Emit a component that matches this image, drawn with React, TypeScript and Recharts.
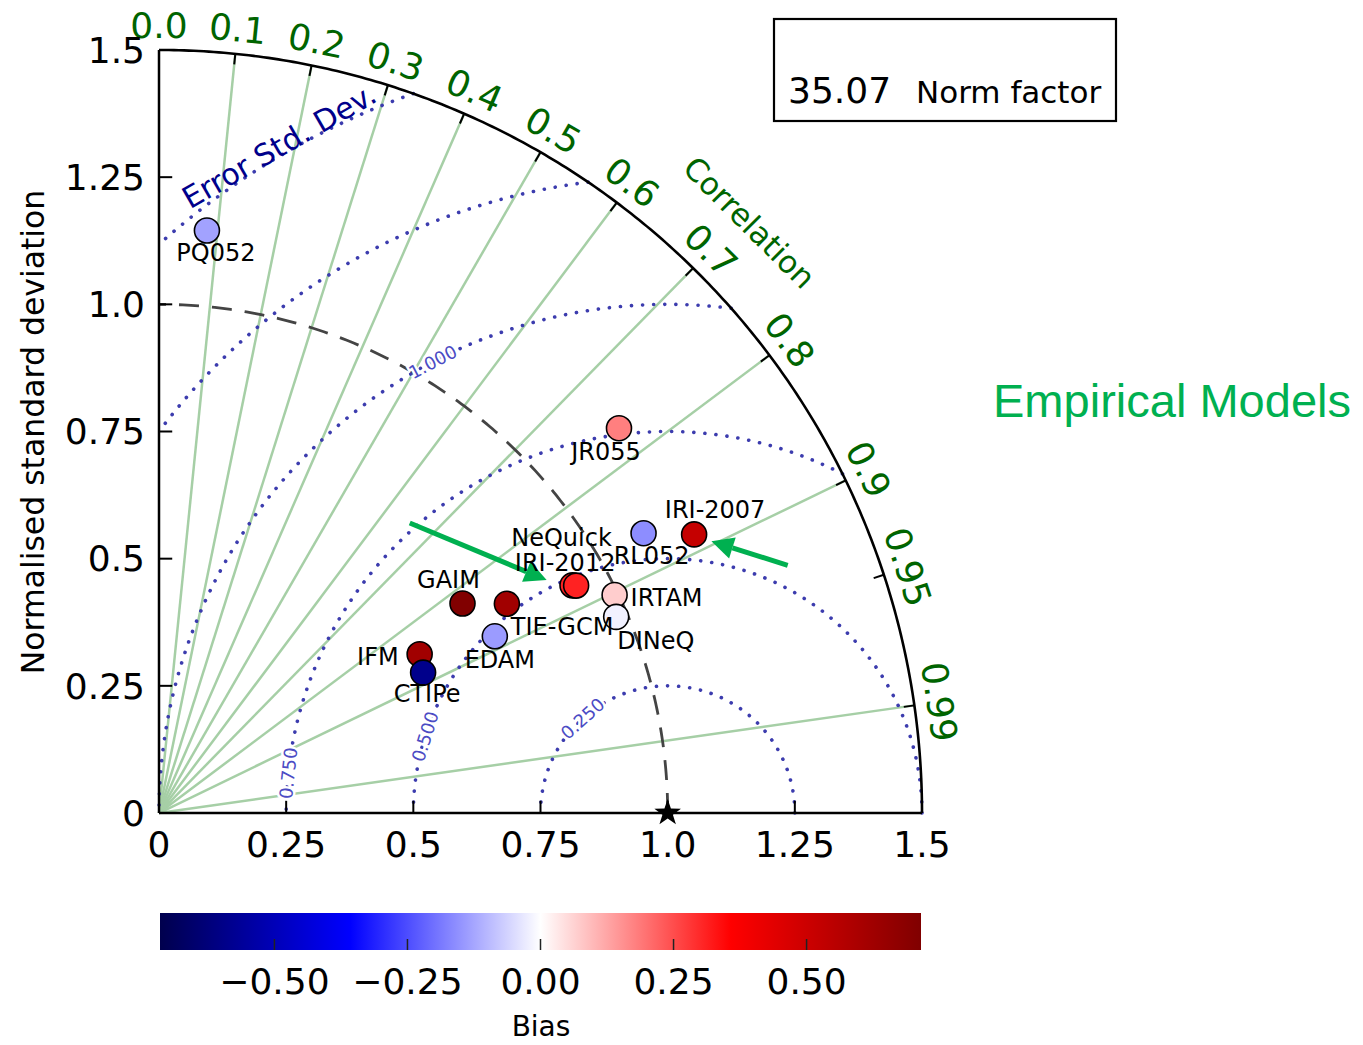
import React from 'react';
import {
  ComposedChart,
  Line,
  Scatter,
  XAxis,
  YAxis,
  ReferenceLine,
  ReferenceDot,
  ReferenceArea,
  Customized,
} from 'recharts';

// ---- Model statistics (standard deviation normalised by the observations) ----
const models = ['PQ052', 'JR055', 'RL052', 'IRI-2007', 'NeQuick', 'IRI-2012', 'IRTAM', 'DINeQ', 'GAIM', 'TIE-GCM', 'EDAM', 'IFM', 'CTIPe'];
const stdDev = [1.149, 1.179, 1.100, 1.186, 0.928, 0.934, 0.993, 0.978, 0.725, 0.798, 0.746, 0.600, 0.588];
const correlation = [0.082, 0.767, 0.866, 0.887, 0.876, 0.878, 0.902, 0.919, 0.823, 0.857, 0.885, 0.854, 0.883];
const bias = [-0.13, 0.18, -0.16, 0.52, 0.31, 0.31, 0.07, -0.02, 0.71, 0.62, -0.14, 0.62, -0.59];

// ---- Diagram axes ----
const refStd = 1.0;
const maxStd = 1.5;
const stdTicks = [0, 0.25, 0.5, 0.75, 1.0, 1.25, 1.5];
const stdTickLabels = ['0', '0.25', '0.5', '0.75', '1.0', '1.25', '1.5'];
const corrLabelValues = [0.0, 0.1, 0.2, 0.3, 0.4, 0.5, 0.6, 0.7, 0.8, 0.9, 0.95, 0.99];
const corrLabelTexts = ['0.0', '0.1', '0.2', '0.3', '0.4', '0.5', '0.6', '0.7', '0.8', '0.9', '0.95', '0.99'];
const corrTickValues = [0.1, 0.2, 0.3, 0.4, 0.5, 0.6, 0.7, 0.8, 0.9, 0.95, 0.99];
const corrRayValues = [0.1, 0.2, 0.3, 0.4, 0.5, 0.6, 0.7, 0.8, 0.9, 0.99];
const rmsLevels = [0.25, 0.5, 0.75, 1.0, 1.25, 1.5];
const rmsLabelLevels = [0.25, 0.5, 0.75, 1.0];
const rmsLabelAngles = [132, 162.5, 174, 117.5]; // degrees around the reference point
const normFactor = '35.07';

// ---- Colour bar ----
const biasLimit = 0.715;
const biasTicks = [-0.5, -0.25, 0, 0.25, 0.5];

// ---- Styling ----
const W = 1363;
const H = 1045;
const FONT = '"DejaVu Sans", sans-serif';
const CORR_GREEN = '#006400';
const RAY_GREEN = '#a6cfa6';
const RMS_BLUE = '#3c3cae';
const RMS_LABEL = '#4b4bc4';
const ARROW_GREEN = '#00b050';

const labelPlacement: Record<string, { dx: number; dy: number; anchor: 'start' | 'middle' | 'end' }> = {
  PQ052: { dx: 9, dy: 22, anchor: 'middle' },
  JR055: { dx: -13, dy: 23, anchor: 'middle' },
  RL052: { dx: 8, dy: 22, anchor: 'middle' },
  'IRI-2007': { dx: 21, dy: -25, anchor: 'middle' },
  NeQuick: { dx: -11, dy: -48, anchor: 'middle' },
  'IRI-2012': { dx: -11, dy: -23, anchor: 'middle' },
  IRTAM: { dx: 16, dy: 2, anchor: 'start' },
  DINeQ: { dx: 1, dy: 23, anchor: 'start' },
  GAIM: { dx: -14, dy: -24, anchor: 'middle' },
  'TIE-GCM': { dx: 4, dy: 23, anchor: 'start' },
  EDAM: { dx: 5, dy: 23, anchor: 'middle' },
  IFM: { dx: -21, dy: 2, anchor: 'end' },
  CTIPe: { dx: 4, dy: 21, anchor: 'middle' },
};

// ---- Geometry helpers ----
const clampStd = (v: number) => Math.min(maxStd, Math.max(0, v));

const polar = (r: number, corr: number) => ({
  x: r * corr,
  y: r * Math.sqrt(Math.max(0, 1 - corr * corr)),
});

const circlePath = (cx: number, radius: number, from: number, to: number, n = 240) =>
  Array.from({ length: n + 1 }, (_, i) => {
    const a = from + ((to - from) * i) / n;
    return { x: clampStd(cx + radius * Math.cos(a)), y: clampStd(radius * Math.sin(a)) };
  });

// RMS-difference contour about the reference point, kept inside the quarter disc
const rmsContour = (R: number) => {
  const lo = Math.acos(Math.min(1, (maxStd * maxStd - refStd * refStd - R * R) / (2 * refStd * R)));
  const hi = Math.acos(Math.max(-1, -refStd / R));
  return circlePath(refStd, R, lo, hi, 300);
};

const seismicStops = [
  [0, 0, 0.3],
  [0, 0, 1],
  [1, 1, 1],
  [1, 0, 0],
  [0.5, 0, 0],
];
const toHex = (c: number[]) =>
  '#' + c.map((v) => Math.round(v * 255).toString(16).padStart(2, '0')).join('');
const seismicColor = (v: number) => {
  const t = Math.min(1, Math.max(0, (v + biasLimit) / (2 * biasLimit)));
  const seg = Math.min(3, Math.floor(t * 4));
  const f = t * 4 - seg;
  const a = seismicStops[seg];
  const b = seismicStops[seg + 1];
  return toHex(a.map((av, k) => av + (b[k] - av) * f));
};

// ---- Derived series ----
const modelPoints = models.map((name, i) => ({
  name,
  ...polar(stdDev[i], correlation[i]),
  bias: bias[i],
}));
const outerArc = circlePath(0, maxStd, 0, Math.PI / 2, 240);
const refArc = circlePath(0, refStd, 0, Math.PI / 2, 200);
const rays = corrRayValues.map((c) => [{ x: 0, y: 0 }, polar(maxStd, c)]);
const contours = rmsLevels.map((R) => rmsContour(R));

const arrows = [
  { from: { x: 0.493, y: 0.57 }, to: { x: 0.762, y: 0.458 } },
  { from: { x: 1.236, y: 0.487 }, to: { x: 1.086, y: 0.534 } },
];

// ---- Shapes ----
const markerShape = (p: any) => (
  <circle cx={p.cx} cy={p.cy} r={12.5} fill={seismicColor(p.payload.bias)} stroke="#000" strokeWidth={1.6} />
);

const nameShape = (p: any) => {
  const pl = labelPlacement[p.payload.name];
  return (
    <text x={p.cx + pl.dx} y={p.cy + pl.dy} dy="0.36em" textAnchor={pl.anchor} fontSize={24} fill="#000" fontFamily={FONT}>
      {p.payload.name}
    </text>
  );
};

const rotatedText = (text: string, rot: number, size: number, color: string, halo = false) => (p: any) => (
  <text
    x={p.cx}
    y={p.cy}
    dy="0.36em"
    textAnchor="middle"
    fontSize={size}
    fill={color}
    fontFamily={FONT}
    transform={`rotate(${rot} ${p.cx} ${p.cy})`}
    stroke={halo ? '#fff' : undefined}
    strokeWidth={halo ? 5 : undefined}
    paintOrder={halo ? 'stroke' : undefined}
  >
    {text}
  </text>
);

const starShape = (p: any) => {
  const pts: string[] = [];
  for (let i = 0; i < 10; i++) {
    const r = i % 2 === 0 ? 14 : 5.5;
    const a = -Math.PI / 2 + (i * Math.PI) / 5;
    pts.push(`${p.cx + r * Math.cos(a)},${p.cy + r * Math.sin(a)}`);
  }
  return <polygon points={pts.join(' ')} fill="#000" />;
};

const arrowShape = (p: any) => {
  const { x1, y1, x2, y2 } = p;
  const ang = Math.atan2(y2 - y1, x2 - x1);
  const head = 22;
  const half = 11;
  const bx = x2 - head * Math.cos(ang);
  const by = y2 - head * Math.sin(ang);
  const px = -Math.sin(ang) * half;
  const py = Math.cos(ang) * half;
  return (
    <g>
      <line x1={x1} y1={y1} x2={bx} y2={by} stroke={ARROW_GREEN} strokeWidth={5} />
      <polygon points={`${x2},${y2} ${bx + px},${by + py} ${bx - px},${by - py}`} fill={ARROW_GREEN} />
    </g>
  );
};

const biasTickShape = (p: any) => (
  <line x1={p.cx} y1={p.cy} x2={p.cx} y2={p.cy - 11} stroke="#222" strokeWidth={1.5} />
);

const fmtBias = (v: number) => (v < 0 ? '\u2212' : '') + Math.abs(v).toFixed(2);

const Decorations = () => (
  <g fontFamily={FONT}>
    <text x={44} y={432} textAnchor="middle" fontSize={31.5} fill="#000" transform="rotate(-90 44 432)">
      Normalised standard deviation
    </text>
    <rect x={774} y={19} width={342} height={102} fill="none" stroke="#000" strokeWidth={2.2} />
    <text x={788} y={103} fontSize={36} fill="#000">
      {normFactor}
    </text>
    <text x={916} y={103} fontSize={31} fill="#000">
      Norm factor
    </text>
    <text
      x={993}
      y={417}
      fontSize={46}
      fill={ARROW_GREEN}
      fontFamily='"Liberation Sans", Arial, sans-serif'
      textLength={358}
      lengthAdjust="spacingAndGlyphs"
    >
      Empirical Models
    </text>
  </g>
);

export default function App() {
  const tickStyle = { fontSize: 36, fill: '#000', fontFamily: FONT };
  return (
    <div style={{ position: 'absolute', left: 0, top: 0, width: W, height: H, background: '#fff', fontFamily: FONT }}>
      <div style={{ position: 'absolute', left: 0, top: 0 }}>
        <ComposedChart width={W} height={H} margin={{ top: 50, right: 441, bottom: 172, left: 0 }}>
          <XAxis
            type="number"
            dataKey="x"
            domain={[0, maxStd]}
            ticks={stdTicks}
            interval={0}
            tickFormatter={(v: number) => stdTickLabels[stdTicks.indexOf(v)] ?? String(v)}
            height={60}
            tickSize={0}
            tickMargin={18}
            tickLine={false}
            axisLine={{ stroke: '#000', strokeWidth: 2.5 }}
            tick={tickStyle}
          />
          <YAxis
            type="number"
            dataKey="y"
            domain={[0, maxStd]}
            ticks={stdTicks}
            interval={0}
            tickFormatter={(v: number) => stdTickLabels[stdTicks.indexOf(v)] ?? String(v)}
            width={159}
            tickSize={0}
            tickMargin={14}
            tickLine={false}
            axisLine={{ stroke: '#000', strokeWidth: 2.5 }}
            tick={tickStyle}
          />

          {/* correlation rays */}
          {rays.map((pts, i) => (
            <Line
              key={`ray-${i}`}
              data={pts}
              dataKey="y"
              type="linear"
              dot={false}
              activeDot={false}
              stroke={RAY_GREEN}
              strokeWidth={2.5}
              isAnimationActive={false}
            />
          ))}

          {/* centred RMS difference contours */}
          {contours.map((pts, i) => (
            <Line
              key={`rms-${i}`}
              data={pts}
              dataKey="y"
              type="linear"
              dot={false}
              activeDot={false}
              stroke={RMS_BLUE}
              strokeWidth={3.6}
              strokeDasharray="0.1 11"
              strokeLinecap="round"
              isAnimationActive={false}
            />
          ))}

          {/* reference standard deviation */}
          <Line
            data={refArc}
            dataKey="y"
            type="linear"
            dot={false}
            activeDot={false}
            stroke="#444"
            strokeWidth={2.8}
            strokeDasharray="20 13"
            isAnimationActive={false}
          />

          {/* outer boundary */}
          <Line
            data={outerArc}
            dataKey="y"
            type="linear"
            dot={false}
            activeDot={false}
            stroke="#000"
            strokeWidth={2.6}
            isAnimationActive={false}
          />

          {/* tick marks on the spines and the arc */}
          {stdTicks.slice(1, -1).map((t) => (
            <ReferenceLine key={`xt-${t}`} segment={[{ x: t, y: 0 }, { x: t, y: 0.024 }]} stroke="#000" strokeWidth={2} />
          ))}
          {stdTicks.slice(1, -1).map((t) => (
            <ReferenceLine key={`yt-${t}`} segment={[{ x: 0, y: t }, { x: 0.026, y: t }]} stroke="#000" strokeWidth={2} />
          ))}
          {corrTickValues.map((c) => (
            <ReferenceLine
              key={`ct-${c}`}
              segment={[polar(maxStd - 0.021, c), polar(maxStd, c)]}
              stroke="#000"
              strokeWidth={2}
            />
          ))}

          {/* correlation tick labels */}
          {corrLabelValues.map((c, i) => {
            const pos = polar(1.55, c);
            const rot = 90 - (Math.acos(c) * 180) / Math.PI;
            return (
              <ReferenceDot
                key={`cl-${i}`}
                x={pos.x}
                y={pos.y}
                r={0}
                ifOverflow="visible"
                shape={rotatedText(corrLabelTexts[i], rot, 36, CORR_GREEN)}
              />
            );
          })}
          <ReferenceDot
            x={polar(1.642, Math.SQRT1_2).x}
            y={polar(1.642, Math.SQRT1_2).y}
            r={0}
            ifOverflow="visible"
            shape={rotatedText('Correlation', 45, 31, CORR_GREEN)}
          />
          <ReferenceDot
            x={0.236}
            y={1.312}
            r={0}
            ifOverflow="visible"
            shape={rotatedText('Error Std. Dev.', -30, 30, '#00008b')}
          />

          {/* contour labels */}
          {rmsLabelLevels.map((R, i) => {
            const phi = (rmsLabelAngles[i] * Math.PI) / 180;
            return (
              <ReferenceDot
                key={`rl-${R}`}
                x={refStd + R * Math.cos(phi)}
                y={R * Math.sin(phi)}
                r={0}
                ifOverflow="visible"
                shape={rotatedText(R.toFixed(3), 90 - rmsLabelAngles[i], 18, RMS_LABEL, true)}
              />
            );
          })}

          {/* annotation arrows */}
          {arrows.map((a, i) => (
            <ReferenceLine key={`ar-${i}`} segment={[a.from, a.to]} ifOverflow="visible" shape={arrowShape} />
          ))}

          {/* reference point */}
          <ReferenceDot x={refStd} y={0} r={0} ifOverflow="visible" shape={starShape} />

          {/* models */}
          <Scatter data={modelPoints} shape={markerShape} isAnimationActive={false} />
          <Scatter data={modelPoints} shape={nameShape} isAnimationActive={false} />

          <Customized component={<Decorations />} />
        </ComposedChart>
      </div>

      <div style={{ position: 'absolute', left: 0, top: 880 }}>
        <ComposedChart width={W} height={165} margin={{ top: 33, right: 442, bottom: 0, left: 160 }}>
          <defs>
            <linearGradient id="seismicBar" x1="0" y1="0" x2="1" y2="0">
              {seismicStops.map((c, i) => (
                <stop key={i} offset={`${i * 25}%`} stopColor={toHex(c)} />
              ))}
            </linearGradient>
          </defs>
          <XAxis
            type="number"
            dataKey="x"
            domain={[-biasLimit, biasLimit]}
            allowDataOverflow
            ticks={biasTicks}
            interval={0}
            tickFormatter={fmtBias}
            height={95}
            tickSize={0}
            tickMargin={18}
            tickLine={false}
            axisLine={false}
            tick={tickStyle}
          />
          <YAxis type="number" dataKey="y" domain={[0, 1]} allowDataOverflow hide />
          <ReferenceArea
            x1={-biasLimit}
            x2={biasLimit}
            y1={0}
            y2={1}
            fill="url(#seismicBar)"
            fillOpacity={1}
            stroke="none"
            ifOverflow="visible"
          />
          <Scatter data={biasTicks.map((b) => ({ x: b, y: 0 }))} shape={biasTickShape} isAnimationActive={false} />
          <Customized
            component={
              <text x={541} y={156} textAnchor="middle" fontSize={28} fill="#000" fontFamily={FONT}>
                Bias
              </text>
            }
          />
        </ComposedChart>
      </div>
    </div>
  );
}
